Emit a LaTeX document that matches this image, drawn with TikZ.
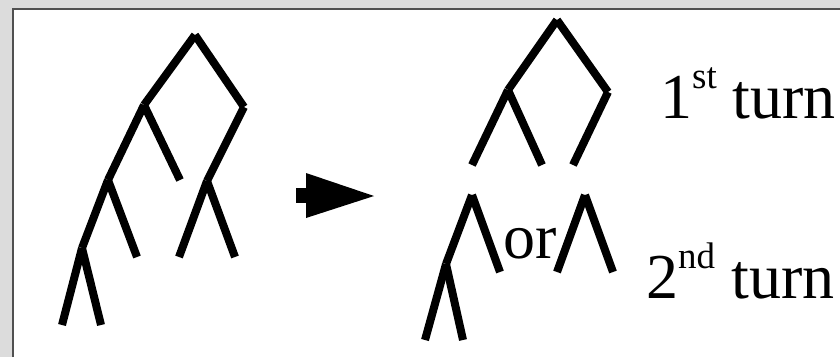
\documentclass[tikz,border=0pt]{standalone}
\usepackage{fontspec}
\setmainfont{Liberation Serif}
\definecolor{panelgray}{HTML}{DCDCDC}
\definecolor{edgegray}{HTML}{505050}
\tikzset{
    branch/.style={line width=8pt, line cap=butt},
    turnlabel/.style={anchor=base west, inner sep=0pt, font=\fontsize{64}{68}\selectfont},
}
\newcommand{\supx}[1]{\raisebox{30pt}{\fontsize{37}{39}\selectfont #1}}
\begin{document}
\begin{tikzpicture}[x=1pt, y=-1pt, line join=miter]
    \useasboundingbox (0,0) rectangle (840,357);
    \fill[panelgray] (0,0) rectangle (840,357);
    \fill[white] (13,9) rectangle (840,357);
    \draw[edgegray, line width=1.8pt] (13,357) -- (13,9) -- (840,9);
    % full tree
    \coordinate (A) at (195,35);
    \coordinate (B) at (144,105);
    \coordinate (C) at (244,107);
    \coordinate (D) at (108,180);
    \coordinate (E) at (207,181);
    \coordinate (F) at (82,248);
    \draw[branch] (A) -- (B);
    \draw[branch] (A) -- (C);
    \draw[branch] (B) -- (D);
    \draw[branch] (B) -- (180,180) coordinate (Bb);
    \draw[branch] (C) -- (E);
    \draw[branch] (D) -- (F);
    \draw[branch] (D) -- (137,257) coordinate (Db);
    \draw[branch] (E) -- (179,257) coordinate (Ea);
    \draw[branch] (E) -- (235,257) coordinate (Eb);
    \draw[branch] (F) -- (62,325) coordinate (Fa);
    \draw[branch] (F) -- (101,325) coordinate (Fb);
    % arrow
    \fill (296,188) rectangle (307,203);
    \fill (306,173) -- (374,196) -- (306,218) -- cycle;
    % first turn
    \coordinate (P) at (557,20);
    \coordinate (Q) at (508,90);
    \coordinate (R) at (608,92);
    \draw[branch] (P) -- (Q);
    \draw[branch] (P) -- (R);
    \draw[branch] (Q) -- (472,165) coordinate (Qa);
    \draw[branch] (Q) -- (542,165) coordinate (Qb);
    \draw[branch] (R) -- (573,165) coordinate (Ra);
    % second turn
    \coordinate (S) at (472,195);
    \coordinate (T) at (446,264);
    \coordinate (U) at (585,195);
    \draw[branch] (S) -- (T);
    \draw[branch] (S) -- (500,272) coordinate (Sb);
    \draw[branch] (T) -- (425,340) coordinate (Ta);
    \draw[branch] (T) -- (463,340) coordinate (Tb);
    \draw[branch] (U) -- (557,272) coordinate (Ua);
    \draw[branch] (U) -- (613,272) coordinate (Ub);
    \node[turnlabel] (or) at (503,258) {or};
    \node[turnlabel] (first) at (660,118) {1\supx{st} turn};
    \node[turnlabel] (second) at (646,298) {2\supx{nd} turn};
\end{tikzpicture}
\end{document}
